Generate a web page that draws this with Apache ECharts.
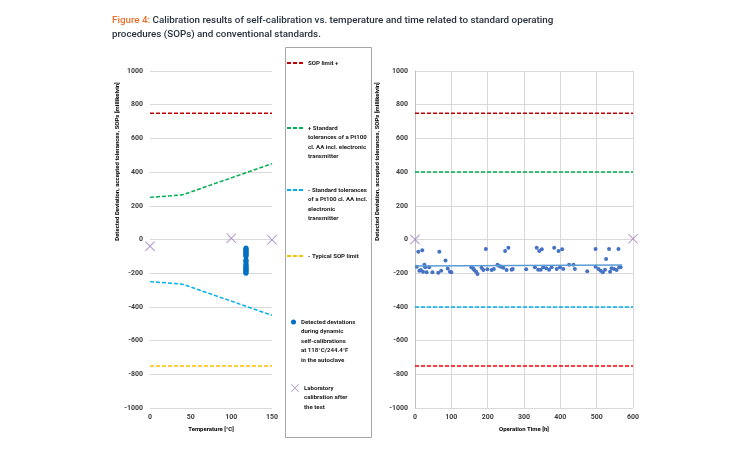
<!DOCTYPE html>
<html><head><meta charset="utf-8">
<script src="https://cdn.jsdelivr.net/npm/echarts@6/dist/echarts.min.js"></script>
<style>html,body{margin:0;padding:0;background:#fff}#c{width:750px;height:450px}</style>
</head><body><div id="c"></div>
<script>
// ---- Left chart: vs. temperature ----
const sopUpperTemp = [[0, 750], [150, 750]];
const stdPlusTemp = [[0, 250], [40, 265], [150, 450]];
const stdMinusTemp = [[0, -250], [40, -265], [150, -450]];
const sopLowerTemp = [[0, -750], [150, -750]];
const selfCalTemp = 118;
const selfCalTempValues = [-50, -55, -60, -65, -70, -75, -80, -85, -90, -95, -100, -120, -125, -130, -140, -150, -155, -160, -165, -170, -175, -180, -185, -190, -195, -200];
const labTemp = [[0, -40], [100, 8], [150, -2]];

// ---- Right chart: vs. operation time ----
const sopUpperTime = [[0, 750], [600, 750]];
const stdPlusTime = [[0, 400], [600, 400]];
const stdMinusTime = [[0, -400], [600, -400]];
const sopLowerTime = [[0, -750], [600, -750]];
const selfCalTime = [[5,-162],[9,-72],[12,-185],[16,-181],[20,-64],[22,-191],[26,-150],[28,-165],[32,-195],[39,-165],[48,-195],[64,-197],[67,-72],[72,-185],[84,-124],[90,-172],[96,-191],[100,-195],
  [155,-165],[160,-172],[163,-181],[168,-191],[172,-205],[183,-167],[188,-181],[195,-56],[199,-177],[211,-181],[217,-175],[227,-150],[232,-157],[237,-162],[243,-167],[248,-68],[252,-181],[257,-49],[266,-180],[269,-175],[306,-177],
  [330,-165],[335,-49],[339,-180],[342,-68],[346,-180],[349,-58],[353,-165],[361,-170],[369,-180],[376,-165],[383,-49],[390,-175],[395,-68],[399,-165],[405,-58],[408,-175],[424,-150],[436,-150],[440,-175],[474,-188],
  [497,-56],[497,-162],[505,-175],[511,-185],[517,-194],[523,-180],[526,-115],[534,-56],[537,-191],[541,-170],[548,-175],[555,-181],[560,-56],[562,-165],[566,-165]];
const trendTime = [[0, -157], [570, -152]];
const labTime = [[0, 0], [600, 5]];

// ---- Axes ----
const yTicks = {min: -1000, max: 1000, interval: 200};
const tempAxis = {min: 0, max: 150, interval: 50};
const timeAxis = {min: 0, max: 600, interval: 100};

const legendLabels = {
  'SOP limit +': 'SOP limit +',
  '+ Standard tolerances': '+ Standard\ntolerances of a Pt100\ncl. AA incl. electronic\ntransmitter',
  '- Standard tolerances': '- Standard tolerances\nof a Pt100 cl. AA incl.\nelectronic\ntransmitter',
  '- Typical SOP limit': '- Typical SOP limit',
  'Detected deviations': 'Detected deviations\nduring dynamic\nself-calibrations\nat 118°C/244.4°F\nin the autoclave',
  'Laboratory calibration': 'Laboratory\ncalibration after\nthe test'
};
const legendOrder = Object.keys(legendLabels);

const FONT = "Roboto, 'Liberation Sans', sans-serif";
const LH = 9.5;
const iconY = [63, 128, 190, 256, 322, 388];
const xPath = 'path://M0,0.7L0.7,0L5,4.3L9.3,0L10,0.7L5.7,5L10,9.3L9.3,10L5,5.7L0.7,10L0,9.3L4.3,5Z';

const legends = legendOrder.map((name, i) => {
  const n = legendLabels[name].split('\n').length;
  const isSym = (name === 'Detected deviations' || name === 'Laboratory calibration');
  const boxH = Math.max((2 * n - 1) * LH, 8);
  const leg = {
    data: [name],
    orient: 'vertical',
    left: isSym ? 291 : 286,
    top: iconY[i] - boxH / 2,
    padding: 0,
    itemWidth: isSym ? (name === 'Laboratory calibration' ? 8 : 5) : 16,
    itemHeight: isSym ? (name === 'Laboratory calibration' ? 8 : 5) : 8,
    selectedMode: false,
    formatter: nm => '\n'.repeat(n - 1) + legendLabels[nm],
    textStyle: {fontSize: 6.1, fontWeight: 'bold', color: '#1a1a1a', fontFamily: FONT, lineHeight: LH}
  };
  if (!isSym) leg.itemStyle = {opacity: 0};
  return leg;
});

const plainNum = v => String(v);
const axisLabel = {fontSize: 7, color: '#404040', fontFamily: FONT, fontWeight: 'bold', formatter: plainNum};
const nameStyle = {fontSize: 6, color: '#000', fontFamily: FONT, fontWeight: 'bold'};
const gridLine = {show: true, lineStyle: {color: '#d9d9d9', width: 1}};

function dashed(name, data, color, xi) {
  return {name, type: 'line', data, xAxisIndex: xi, yAxisIndex: xi, symbol: 'none',
    lineStyle: {color, width: 1.5, type: [4, 2]}, itemStyle: {color}, silent: true};
}

const chart = echarts.init(document.getElementById('c'), null, {renderer: 'canvas'});
chart.setOption({
  animation: false,
  backgroundColor: '#fff',
  title: {
    text: '{a|Figure 4:} Calibration results of self-calibration vs. temperature and time related to standard operating\nprocedures (SOPs) and conventional standards.',
    left: 107, top: 9,
    textStyle: {fontSize: 9.8, fontWeight: 500, color: '#26303c', fontFamily: FONT, lineHeight: 14,
      rich: {a: {fontSize: 9.8, fontWeight: 500, color: '#e8702a', fontFamily: FONT, lineHeight: 14}}}
  },
  legend: legends,
  graphic: [{type: 'rect', shape: {x: 285.5, y: 47.5, width: 86, height: 390}, style: {fill: 'none', stroke: '#a6a6a6', lineWidth: 1}, z: -1}],
  grid: [
    {left: 150, top: 71, width: 122, height: 337},
    {left: 415, top: 71, width: 218, height: 337}
  ],
  xAxis: [
    {type: 'value', gridIndex: 0, ...tempAxis, name: 'Temperature [°C]', nameLocation: 'middle', nameGap: 18,
      nameTextStyle: nameStyle, axisLine: {show: false}, axisTick: {show: false}, splitLine: {show: false},
      axisLabel: {...axisLabel, margin: 6}},
    {type: 'value', gridIndex: 1, ...timeAxis, name: 'Operation Time [h]', nameLocation: 'middle', nameGap: 18,
      nameTextStyle: nameStyle, axisLine: {show: false}, axisTick: {show: false}, splitLine: gridLine,
      axisLabel: {...axisLabel, margin: 6}}
  ],
  yAxis: [
    {type: 'value', gridIndex: 0, ...yTicks, name: 'Detected Deviation, accepted tolerances, SOPs [millikelvin]',
      nameLocation: 'middle', nameGap: 29, nameTextStyle: {...nameStyle, padding: [0, 0, 0, 156]},
      axisLine: {show: false}, axisTick: {show: false}, splitLine: gridLine, axisLabel: {...axisLabel, margin: 7}},
    {type: 'value', gridIndex: 1, ...yTicks, name: 'Detected Deviation, accepted tolerances, SOPs [millikelvin]',
      nameLocation: 'middle', nameGap: 35, nameTextStyle: {...nameStyle, padding: [0, 0, 0, 156]},
      axisLine: {show: true, lineStyle: {color: '#bfbfbf'}}, axisTick: {show: false}, splitLine: gridLine,
      axisLabel: {...axisLabel, margin: 7}}
  ],
  series: [
    dashed('SOP limit +', sopUpperTemp, '#c00000', 0),
    dashed('+ Standard tolerances', stdPlusTemp, '#00b050', 0),
    dashed('- Standard tolerances', stdMinusTemp, '#00b0f0', 0),
    dashed('- Typical SOP limit', sopLowerTemp, '#ffc000', 0),
    {name: 'Detected deviations', type: 'scatter', xAxisIndex: 0, yAxisIndex: 0, symbolSize: 5,
      data: selfCalTempValues.map(v => [selfCalTemp, v]), itemStyle: {color: '#0070c0', opacity: 1}},
    {name: 'Laboratory calibration', type: 'scatter', xAxisIndex: 0, yAxisIndex: 0, symbol: xPath, symbolSize: 10,
      clip: false, data: labTemp, itemStyle: {color: '#9b7bc4'}},
    dashed('SOP limit + ', sopUpperTime, '#c00000', 1),
    dashed('+ Standard ', stdPlusTime, '#00b050', 1),
    dashed('- Standard ', stdMinusTime, '#00b0f0', 1),
    dashed('SOP limit -', sopLowerTime, '#ff0000', 1),
    {name: 'Trend', type: 'line', xAxisIndex: 1, yAxisIndex: 1, data: trendTime, symbol: 'none',
      lineStyle: {color: '#5b9bd5', width: 1.5}, silent: true},
    {name: 'Detected deviations ', type: 'scatter', xAxisIndex: 1, yAxisIndex: 1, symbolSize: 4,
      data: selfCalTime, itemStyle: {color: '#4472c4', opacity: 1}},
    {name: 'Laboratory calibration ', type: 'scatter', xAxisIndex: 1, yAxisIndex: 1, symbol: xPath, symbolSize: 10,
      clip: false, data: labTime, itemStyle: {color: '#9b7bc4'}}
  ]
});
</script></body></html>
